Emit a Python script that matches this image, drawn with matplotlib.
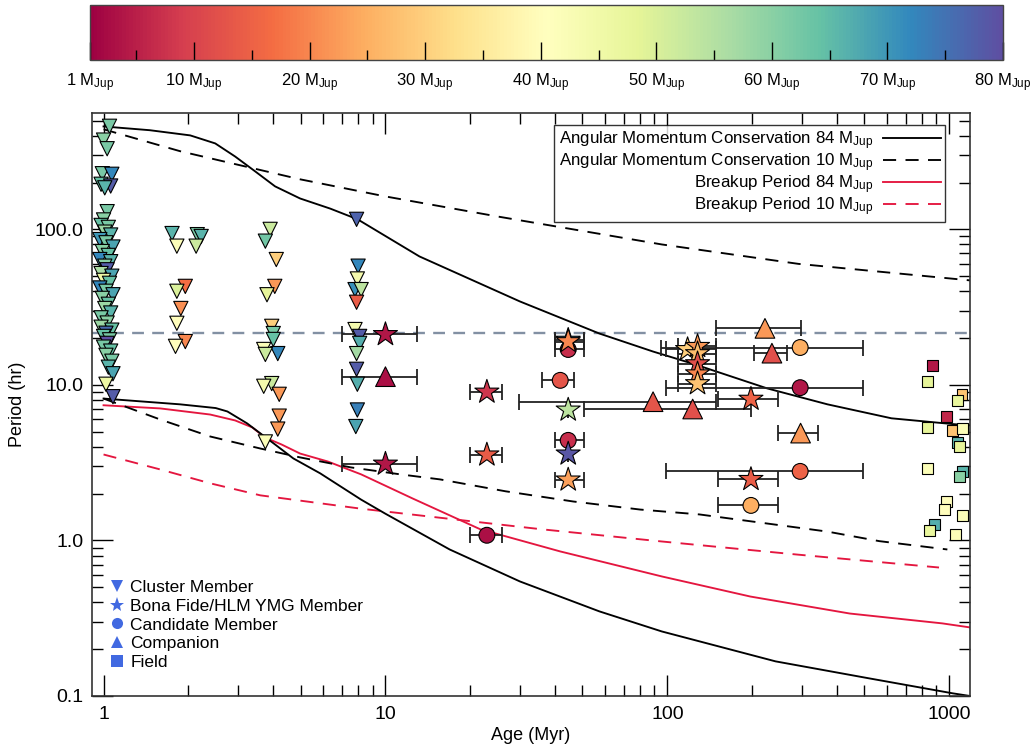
import numpy as np
import matplotlib
matplotlib.use("Agg")
import matplotlib.pyplot as plt
from matplotlib.lines import Line2D
from matplotlib.colors import Normalize
from matplotlib.cm import ScalarMappable
from matplotlib.ticker import FixedLocator, NullFormatter

plt.rcParams['font.family'] = ['Liberation Sans', 'DejaVu Sans']
plt.rcParams['mathtext.fontset'] = 'custom'
plt.rcParams['mathtext.rm'] = 'Liberation Sans'
plt.rcParams['mathtext.it'] = 'Liberation Sans:italic'
plt.rcParams['font.size'] = 12

# ---------------- data ----------------
# model curves (age in Myr, period in hr)
am84_age = [1.0, 1.46, 2.03, 2.49, 2.93, 3.45, 4.06, 4.98, 6.37, 7.97, 13.2, 30.0, 57.4, 88.9, 123, 226, 370, 624, 1030, 1185]
am84_per = [459, 434, 402, 357, 294, 236, 189, 158, 136, 116, 67, 34.4, 21.4, 16.4, 13.7, 9.5, 7.5, 6.1, 5.6, 5.5]

am10_age = [1.0, 1.87, 4.97, 9.97, 25.0, 95.6, 292, 1185]
am10_per = [440, 318, 210, 163, 121, 80, 60, 47]

am84f_age = [1.0, 1.87, 2.5, 2.75, 3.23, 3.60, 4.06, 4.71, 5.87, 8.2, 9.97, 16.9, 30.0, 57.4, 95.6, 242, 518, 1030, 1185]
am84f_per = [8.17, 7.5, 7.1, 6.75, 5.66, 4.88, 4.14, 3.37, 2.70, 1.83, 1.49, 0.875, 0.545, 0.35, 0.26, 0.167, 0.13, 0.104, 0.1]

am10f_age = [1.0, 1.59, 2.39, 3.60, 4.98, 7.53, 11.3, 15.6, 26.7, 46.4, 80.1, 130, 370, 565, 985]
am10f_per = [8.17, 5.99, 4.66, 3.90, 3.42, 2.95, 2.66, 2.47, 2.07, 1.78, 1.58, 1.47, 1.14, 0.99, 0.875]

bu84_age = [1.0, 1.59, 2.39, 2.93, 3.37, 3.74, 4.28, 4.98, 6.24, 8.2, 12.5, 21.7, 41.7, 95.6, 197, 444, 945, 1185]
bu84_per = [7.4, 7.06, 6.45, 5.91, 5.33, 4.59, 4.14, 3.62, 3.22, 2.66, 1.86, 1.18, 0.85, 0.587, 0.436, 0.339, 0.293, 0.276]

bu10_age = [1.0, 1.59, 2.39, 3.60, 8.2, 15.6, 35.8, 95.6, 292, 920]
bu10_per = [3.57, 2.86, 2.33, 1.95, 1.6, 1.4, 1.18, 0.985, 0.81, 0.67]

ref_period = 21.5

# cluster members (age, period, mass)
cl_age = [1.05, 1.00, 1.03, 0.99, 1.07, 0.98, 1.06, 1.01, 1.03, 1.00, 0.98, 1.04, 1.01, 1.06, 0.97, 1.02,
          1.08, 0.99, 1.04, 0.97, 1.06, 1.01, 1.03, 0.98, 1.07, 1.00, 1.05, 0.97, 1.02, 1.08, 0.99, 1.04,
          1.01, 1.06, 0.98, 1.03, 0.98, 1.07, 1.02, 1.00, 1.05, 1.03, 1.00, 1.06, 1.02, 1.07, 1.04, 1.08,
          1.02, 1.08,
          1.75, 1.82, 2.15, 2.22, 2.13, 1.95, 1.82, 1.88, 1.82, 1.95, 1.80,
          3.90, 3.75, 4.10, 4.05, 3.80, 3.95, 4.00, 4.00, 3.70, 4.15, 3.75, 3.95, 3.70, 4.20, 4.20, 4.15, 3.75,
          7.9, 8.0, 7.95, 7.8, 8.2, 7.9, 7.8, 8.1, 8.1, 7.9, 7.9, 7.95, 7.95, 7.85]
cl_per = [460, 375, 330, 228, 226, 195, 190, 185, 130, 115, 106, 103, 96, 92, 86, 82,
          77, 72, 68, 64, 62, 58, 55, 52, 50, 47, 45, 42, 40, 38, 36, 33,
          31, 29, 27, 25, 23.5, 22.5, 21.5, 20.5, 19.5, 18.5, 17.5, 16.5, 15.5, 14.2, 13.0, 11.8,
          10.1, 8.4,
          94, 78, 92.5, 90, 78, 43, 40, 31, 24.9, 19.0, 17.7,
          100, 84, 64, 43, 38, 23.8, 21.4, 19.6, 16.9, 15.9, 15.7, 10.2, 9.8, 8.7, 6.3, 5.2, 4.3,
          116, 58, 48, 41, 41, 34, 22.7, 20.5, 18.5, 15.9, 12.6, 10.1, 6.9, 5.4]
cl_mass = [62, 60, 62, 62, 72, 64, 78, 66, 62, 60, 64, 62, 58, 66, 70, 62,
           68, 60, 64, 72, 66, 60, 78, 56, 68, 46, 64, 72, 62, 68, 60, 64,
           58, 66, 62, 60, 58, 64, 76, 64, 62, 80, 62, 64, 60, 62, 66, 68,
           46, 78,
           66, 42, 62, 66, 52, 17, 50, 21, 40, 20, 40,
           52, 63, 30, 22, 48, 30, 62, 64, 42, 72, 52, 52, 44, 22, 22, 22, 42,
           77, 72, 44, 71, 54, 14, 44, 78, 67, 57, 78, 67, 73, 68]

# Bona fide / HLM YMG members (stars)
bf_age = [10, 10, 22.9, 22.9, 44.5, 44.5, 44.5, 44.5, 44.5, 118, 128, 128, 128, 128, 128, 198, 198]
bf_per = [21.1, 3.1, 9.0, 3.55, 19.4, 19.0, 6.9, 3.6, 2.45, 16.9, 17.7, 15.9, 13.7, 11.8, 10.2, 8.1, 2.47]
bf_mass = [4, 4, 8, 14, 72, 20, 54, 79, 23, 30, 22, 27, 12, 20, 28, 15, 14]
bf_lo = [7.0, 7.0, 20, 20, 40, 40, 44.5, 44.5, 40, 99, 109, 109, 109, 109, 109, 151, 151]
bf_hi = [12.9, 12.9, 26, 26, 50.6, 50.6, 44.5, 44.5, 50.6, 149, 149, 149, 149, 149, 149, 246, 246]

# candidate members (circles)
cm_age = [44.5, 41.7, 44.5, 22.9, 296, 296, 296, 198]
cm_per = [16.9, 10.7, 4.4, 1.08, 17.4, 9.6, 2.78, 1.68]
cm_mass = [7, 13, 7, 3, 25, 4, 15, 25]
cm_lo = [40, 35.9, 40, 20, 95, 99, 99, 151]
cm_hi = [50.6, 46.6, 50.6, 26, 493, 493, 493, 246]

# companions (up triangles)
co_age = [10, 222, 235, 89, 123, 297]
co_per = [11.3, 23.1, 16.0, 7.8, 7.0, 4.9]
co_mass = [3, 22, 12, 13, 12, 22]
co_lo = [7.0, 149, 203, 29.8, 50.6, 246]
co_hi = [12.9, 297, 265, 149, 198, 343]

# field objects (squares)
fd_age = [870, 840, 1109, 1070, 980, 840, 1030, 1117, 1070, 1085, 840, 1117, 1085, 980, 965, 1117, 885, 850, 1050]
fd_per = [13.3, 10.5, 8.7, 7.9, 6.3, 5.3, 5.1, 5.25, 4.26, 4.0, 2.9, 2.78, 2.58, 1.78, 1.58, 1.45, 1.27, 1.16, 1.09]
fd_mass = [4, 48, 28, 47, 6, 48, 28, 42, 66, 48, 42, 66, 60, 40, 40, 42, 67, 47, 42]

cbar_ticks = [1, 10, 20, 30, 40, 50, 60, 70, 80]
cbar_minor = [5, 15, 25, 35, 45, 55, 65, 75]
x_ticks = [1, 10, 100, 1000]
x_ticklabels = ['1', '10', '100', '1000']
y_ticks = [0.1, 1.0, 10.0, 100.0]
y_ticklabels = ['0.1', '1.0', '10.0', '100.0']

# ---------------- figure ----------------
W, H = 1031, 749
fig = plt.figure(figsize=(W / 100, H / 100), dpi=100)
ax = fig.add_axes([92 / W, 1 - 696 / H, (970 - 92) / W, (696 - 113) / H])
cax = fig.add_axes([90 / W, 1 - 60 / H, 913 / W, 55 / H])

cmap = plt.get_cmap('Spectral')
norm = Normalize(vmin=1, vmax=80)

# colorbar
cb = fig.colorbar(ScalarMappable(norm=norm, cmap=cmap), cax=cax, orientation='horizontal')
cb.outline.set_edgecolor('#444444')
cb.outline.set_linewidth(1.0)
cax.xaxis.set_major_locator(FixedLocator(cbar_ticks))
cax.xaxis.set_minor_locator(FixedLocator(cbar_minor))
cax.set_xticklabels([f'{t} M$_{{\\rm Jup}}$' for t in cbar_ticks])
cax.tick_params(axis='x', which='major', direction='in', length=13, width=1, color='black',
                labelsize=12, pad=8, bottom=True, top=False)
cax.tick_params(axis='x', which='minor', direction='in', length=7, width=1, color='black',
                bottom=True, top=False)

# model curves
dash = (0, (7, 5))
line_kw = dict(lw=1.35, zorder=2)
ax.plot(am84_age, am84_per, color='black', ls='-', label='Angular Momentum Conservation 84 M$_{\\rm Jup}$', **line_kw)
ax.plot(am10_age, am10_per, color='black', ls=dash, label='Angular Momentum Conservation 10 M$_{\\rm Jup}$', **line_kw)
ax.plot(bu84_age, bu84_per, color='#e4163f', ls='-', label='Breakup Period 84 M$_{\\rm Jup}$', **line_kw)
ax.plot(bu10_age, bu10_per, color='#e4163f', ls=dash, label='Breakup Period 10 M$_{\\rm Jup}$', **line_kw)
ax.plot(am84f_age, am84f_per, color='black', ls='-', **line_kw)
ax.plot(am10f_age, am10f_per, color='black', ls=dash, **line_kw)
ax.axhline(ref_period, color='#8290a3', ls=(0, (5, 3.5)), lw=1.7, zorder=1.5)

# error bars
eb_kw = dict(fmt='none', ecolor='#222222', elinewidth=1.3, capsize=6, capthick=1.3, zorder=3)
for a, p, lo, hi in [(bf_age, bf_per, bf_lo, bf_hi), (cm_age, cm_per, cm_lo, cm_hi), (co_age, co_per, co_lo, co_hi)]:
    a = np.array(a, float); p = np.array(p, float)
    xerr = [a - np.array(lo, float), np.array(hi, float) - a]
    ax.errorbar(a, p, xerr=xerr, **eb_kw)

sc_kw = dict(cmap=cmap, norm=norm, edgecolors='black', linewidths=0.8, zorder=4)
ax.scatter(cl_age, cl_per, c=cl_mass, marker='v', s=105, **sc_kw)
ax.scatter(fd_age, fd_per, c=fd_mass, marker='s', s=60, **sc_kw)
ax.scatter(co_age, co_per, c=co_mass, marker='^', s=200, **sc_kw)
ax.scatter(cm_age, cm_per, c=cm_mass, marker='o', s=130, **sc_kw)
ax.scatter(bf_age, bf_per, c=bf_mass, marker='*', s=330, **sc_kw)

ax.set_xscale('log')
ax.set_yscale('log')
ax.set_xlim(0.91, 1185)
ax.set_ylim(0.1, 560)
ax.xaxis.set_major_locator(FixedLocator(x_ticks))
ax.yaxis.set_major_locator(FixedLocator(y_ticks))
ax.set_xticklabels(x_ticklabels)
ax.set_yticklabels(y_ticklabels)
ax.xaxis.set_minor_formatter(NullFormatter())
ax.yaxis.set_minor_formatter(NullFormatter())
ax.tick_params(which='major', direction='in', length=15, width=1, top=True, right=True, labelsize=14)
ax.tick_params(axis='x', which='major', pad=7)
ax.tick_params(axis='y', which='major', pad=6)
ax.tick_params(which='minor', direction='in', length=8, width=1, top=True, right=True)
for s in ax.spines.values():
    s.set_color('#333333')
    s.set_linewidth(1.2)
ax.set_xlabel('Age (Myr)', fontsize=13, labelpad=3)
ax.set_ylabel('Period (hr)', fontsize=13, labelpad=6)

# legends
leg1 = ax.legend(loc='upper right', bbox_to_anchor=(0.9715, 0.979), borderaxespad=0,
                 markerfirst=False, frameon=True, fancybox=False, edgecolor='black',
                 fontsize=12.2, handlelength=3.4, labelspacing=-0.04, borderpad=0.25,
                 handletextpad=0.6)
leg1.get_frame().set_linewidth(1.0)
ax.add_artist(leg1)

mk_handles = [Line2D([], [], ls='None', marker=m, color='#4169e1', markersize=ms, markeredgewidth=0)
              for m, ms in [('v', 8), ('*', 11), ('o', 8), ('^', 8), ('s', 8)]]
mk_labels = ['Cluster Member', 'Bona Fide/HLM YMG Member', 'Candidate Member', 'Companion', 'Field']
ax.legend(mk_handles, mk_labels, loc='lower left', bbox_to_anchor=(0.02, 0.045), borderaxespad=0,
          frameon=False, fontsize=12.5, handlelength=0.8, handletextpad=0.4, labelspacing=0.2, borderpad=0)

fig.savefig('out.png', dpi=100)
